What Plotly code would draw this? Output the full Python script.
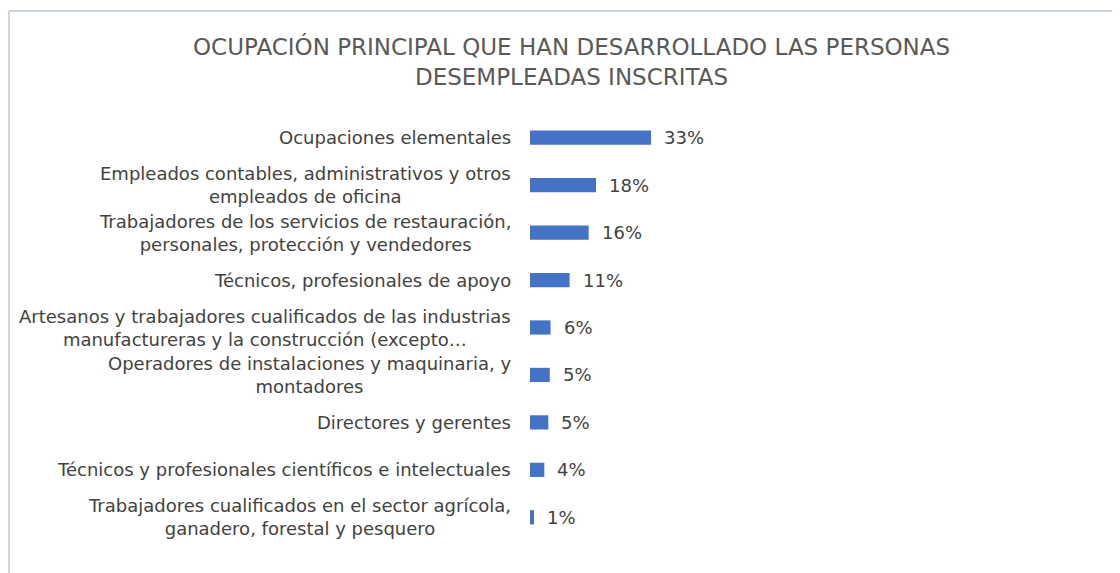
import plotly.graph_objects as go

categories = [
    "Ocupaciones elementales",
    "Empleados contables, administrativos y otros<br>empleados de oficina",
    "Trabajadores de los servicios de restauración,<br>personales, protección y vendedores",
    "Técnicos, profesionales de apoyo",
    "Artesanos y trabajadores cualificados de las industrias<br>manufactureras y la construcción (excepto…",
    "Operadores de instalaciones y maquinaria, y<br>montadores",
    "Directores y gerentes",
    "Técnicos y profesionales científicos e intelectuales",
    "Trabajadores cualificados en el sector agrícola,<br>ganadero, forestal y pesquero",
]
values = [33.0, 18.0, 16.0, 10.8, 5.6, 5.4, 5.0, 3.9, 1.1]
title_text = "OCUPACIÓN PRINCIPAL QUE HAN DESARROLLADO LAS PERSONAS<br>DESEMPLEADAS INSCRITAS"

# page has an 8px body margin; work in screen pixels and convert
OFF = 8
W, H = 1120 - OFF, 573 - OFF
FONT = "DejaVu Sans"
TXT = "#424242"
BAR = "#4472C4"
BORDER = "#ccd3e1"


def px(x):
    return (x - OFF) / W


def py(y):
    return 1 - (y - OFF) / H


idx = list(range(len(categories)))

fig = go.Figure()
fig.add_trace(go.Bar(
    x=values, y=idx, orientation="h",
    marker=dict(color=BAR, line=dict(width=0)),
    textposition="none",
    hoverinfo="skip",
))

annotations = []
for i, (c, v) in enumerate(zip(categories, values)):
    annotations.append(dict(
        x=px(513), xref="paper", y=i, yref="y",
        text=c, showarrow=False, xanchor="right", yanchor="middle",
        align="center", font=dict(family=FONT, size=18, color=TXT),
    ))
    annotations.append(dict(
        x=v, xref="x", y=i, yref="y", xshift=11,
        text=f"{round(v):d}%", showarrow=False, xanchor="left", yanchor="middle",
        font=dict(family=FONT, size=18, color=TXT),
    ))
annotations.append(dict(
    x=px(571), xref="paper", y=py(62), yref="paper",
    text=title_text, showarrow=False, xanchor="center", yanchor="middle",
    align="center", font=dict(family=FONT, size=23, color="#595959"),
))

x0, x1 = 530, 1060
fig.update_layout(
    width=W, height=H,
    margin=dict(l=0, r=0, t=0, b=0),
    paper_bgcolor="white", plot_bgcolor="white",
    showlegend=False,
    bargap=0.70,
    xaxis=dict(domain=[px(x0), px(x1)], range=[0, (x1 - x0) / 3.667],
               visible=False, fixedrange=True),
    yaxis=dict(domain=[py(541), py(114)], range=[8.5, -0.5],
               visible=False, fixedrange=True),
    annotations=annotations,
    shapes=[
        dict(type="line", xref="paper", yref="paper",
             x0=px(9), x1=1.0, y0=py(11), y1=py(11),
             line=dict(color=BORDER, width=2)),
        dict(type="line", xref="paper", yref="paper",
             x0=px(9), x1=px(9), y0=py(11), y1=0,
             line=dict(color=BORDER, width=2)),
    ],
)

fig.write_html("out.html")
